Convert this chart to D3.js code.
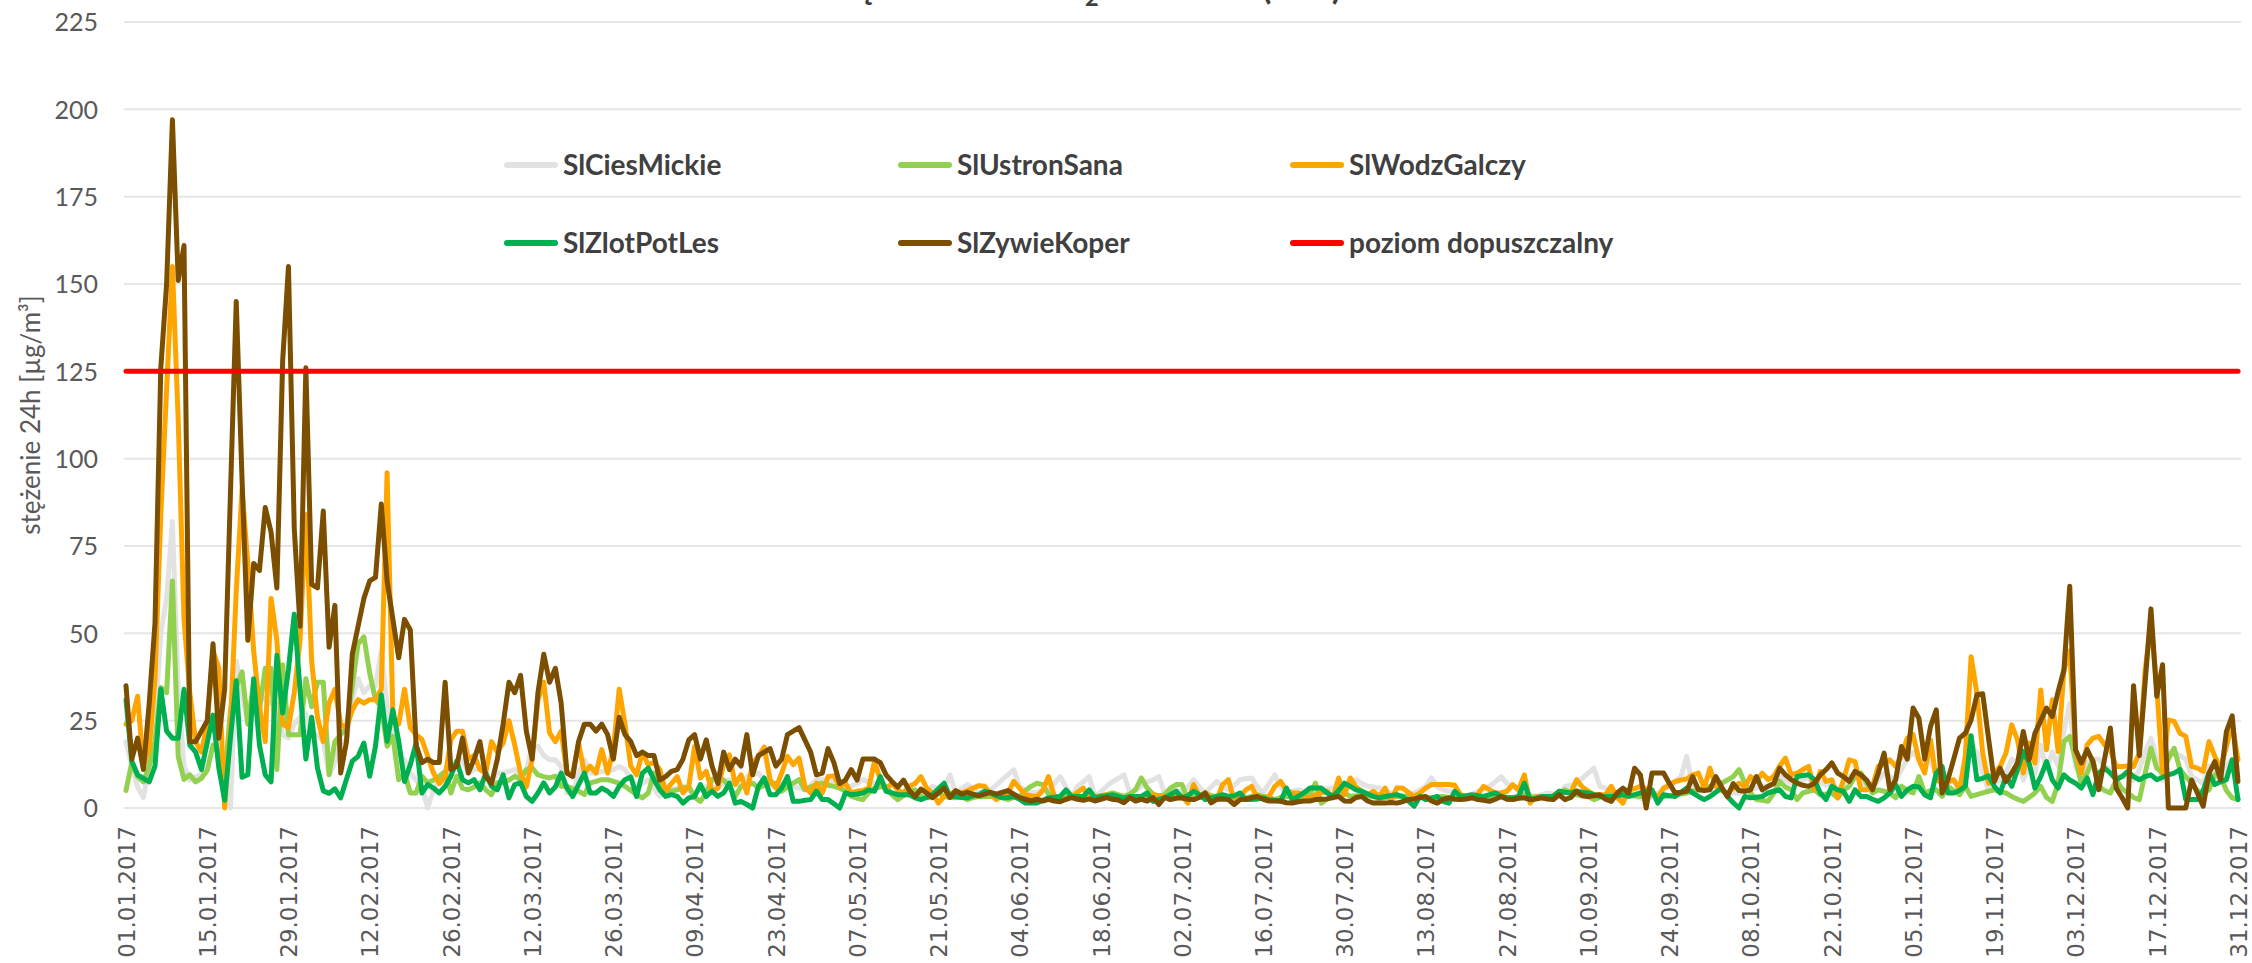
<!DOCTYPE html>
<html><head><meta charset="utf-8">
<script src="https://cdn.jsdelivr.net/npm/d3@7"></script>
<style>html,body{margin:0;padding:0;background:#fff;overflow:hidden}</style>
</head><body>
<svg id="chart" width="2252" height="963"></svg>
<script>
// ---------- data ----------
const seriesNames = ["SlCiesMickie", "SlUstronSana", "SlWodzGalczy", "SlZlotPotLes", "SlZywieKoper"];
const seriesColors = ["#E2E2E2", "#92D050", "#FFA500", "#00B050", "#7B4E00"];
const limitName = "poziom dopuszczalny";
const limitColor = "#FF0000";
const limitValue = 125;

const cies = [
19,12,6,3,12,24,50,60,82,34,
12,8,9,9.5,21,24,15,7,0,42,
33,24,29,32,31,30,30,21,20,24,
26,27,21,21,19,9.5,13,19,19,31,
37,33,35,35,45,29,21.5,15.7,13.8,10,
8,6.2,0,5.2,8.1,9.1,11,12.9,13.8,10,
11,11.5,10,7.2,10,10,10.5,11,9.1,11,
17.7,17.7,15,13.8,13.8,11.9,4.3,4.3,10,13.8,
10,10,10.5,10.5,11,11.9,11,8.5,6.2,7,
8.1,5.5,3.3,4.3,5.2,5.7,6.2,5,4.3,5.2,
6.2,6,5.7,7,8.1,7,6.2,9,9.5,10,
8,6.2,6.7,7.1,6.6,6.2,5.7,5.2,6.5,8.1,
8.1,8.1,7,6.2,6.2,6.2,7,8.1,7.5,7.1,
6.5,6.2,4,2.4,4.5,6.2,4.5,3.3,5,6.2,
5.5,5.2,9.5,4.3,5.5,6.7,5.5,4.3,4.8,5.2,
6.5,8.1,9.5,11,6.2,5,4.3,4.6,5,5.2,
7,9,6,3.3,6.2,7.5,9,3.3,4.7,6.2,
7.5,8.5,9.5,4.3,5.2,6.2,7.5,8,9,4.3,
5.2,5.5,4.3,6,8.1,6,4.3,6,7.6,6.2,
5.2,6.5,8.1,8.4,8.6,6,4.3,7,9.5,6,
4.3,4.8,5.2,4.8,4.3,4.8,5.2,5.5,5.7,5.5,
5.2,6.5,8.1,7,6.2,6,5.7,5,4.3,3.8,
3.3,3.8,4.3,5.2,6.2,8.6,6,5.2,4.8,4.3,
3.8,3.3,4,4.8,5.5,6.2,7.5,9,7,6.2,
5,4.3,3.8,3.3,3.8,4.3,4,3.8,6.2,6.5,
7.1,8.5,10,11.4,6.2,5.7,5.2,4.3,3.3,3.3,
3.3,2.8,2.4,3.3,4.3,5.2,6.2,7.5,9,14.8,
6.2,5.7,5.2,5.7,6.2,5.2,4.3,4.3,4.3,4.8,
5.2,5.7,6.2,6,7,9,8,7,7.5,8,
9,6,7.5,6.5,7,5,6,9,10,7,
6,5.5,8,10,9,8,11,14,16,14,
12,14,9,6,7,8,6,10,18,16,
10,5,7,8,10,14,13,8,12,10,
18,11,16,12,22,30,12,8,13,14,
14,12,11,9,9,9,8,11,16,20,
14,8,16,16,15,14,9,8,7,12,
10,8,12,14,9];

const ustron = [
5,13,9,7.5,12,19,34.5,33,65,14.7,
8.2,9.5,7.5,8.5,10.8,18,16,7.5,28,34.5,
39,24,36,28,40,40,11,41,21,21,
21,37,29,36,36,9.5,19,21,23,35,
47,49,38.6,31,29,17.7,20.5,8.1,10,4.3,
4.3,9.1,7.2,8,9.1,10.5,4.3,9.1,5.7,5.2,
6,7.2,5.2,3.8,7.2,7.2,8,9.1,8.1,11,
11.5,9.5,9,8.6,9.1,6.2,6.2,5.5,4.8,3.8,
7.2,7.6,8.1,8.1,7.6,7.1,6.2,5,3.8,2.9,
4.3,10,6,4.3,4.8,5.2,5.7,6.2,3,1.9,
4.3,8.1,9,8,6.2,3.3,6.2,6.5,7.1,5.7,
6.5,7.1,7.1,4.8,6,7.1,8.1,5.2,6,6.7,
7.1,6.5,6.2,5.7,4.8,3.3,2.8,2.4,4.3,5.7,
6,6.2,3.8,2.4,3.5,4.8,5.2,3.3,3,2.9,
4.3,3.3,3,2.9,3.3,2.4,3,3.3,3.3,3.3,
3.3,3,2.4,3,3.3,5,6.2,7.1,6.7,4,
3.3,3.3,3.3,3,2.9,3.1,3.3,3.3,3.3,3.8,
4.3,3.8,3.3,4,5.2,8.6,5.7,4,3.3,3.8,
5.7,6.7,6.7,2.4,3,3.3,4.3,3.5,3.3,3.1,
2.9,3.3,3.1,2.9,3.3,3.8,3.3,3,2.4,3,
3.3,3.3,3.1,2.9,4,7.1,1.4,2.5,3.3,3.8,
4.3,3.3,3.5,3.8,3.5,3.3,3,2.9,3.1,3.3,
3.3,3.3,3.3,3.3,3,2.9,3.1,3.3,3,2.9,
3.1,3.3,3,2.9,3.1,3.3,3.3,3.3,3,2.9,
3.3,3.8,3.3,2.9,2.9,3,3.3,4,5.2,4.5,
3.8,3.5,3.3,2.4,3,3.8,4,4.3,4,3.8,
3.5,3.3,3.5,3.8,3.5,3.3,3.5,3.8,4,4.3,
4.8,5.2,5.7,6.2,6.7,7.1,8,9,11,7.1,
4.3,2.4,2.2,1.9,4.3,7.6,6,5.2,2.4,4.3,
4.8,5.2,3.8,4,4.3,2.9,5,6.2,9,10,
7,4.3,5.2,4.8,4.3,2.9,6.2,5,4.3,9,
4.3,5,5.2,3.3,6.2,5,3.8,6.2,3.3,3.8,
4.3,4.8,5.2,4.7,4.3,3.3,2.5,1.9,3,4.3,
6.2,3,1.9,7.1,19,20.5,13.8,7.1,10,13.8,
6.2,5,4.3,8.1,5.5,4.3,3,2.4,10,17.1,
11.4,10,14,17.1,11,9,7.1,5,4.3,5.2,
9.5,9,5,2.9,2.4];

const wodz = [
24,25,32,12,17,37,84,120,155,111,
54,33,19,16,24,45,40,0,24,62,
91,70,45,29,19,60,48,24,23,33,
48,84,42,26,19,30,34,24,23,28,
31,30,31,31,34,96,26,24,34,23,
21,19.6,14.8,10,7,9,19.6,22,22,14,
15,11,10,19,16,18.6,25,18,10,6,
14,31,36,21.5,19,22,10,10,18.6,10,
12,10,16.7,10,16.7,34,24,12,9.5,16,
12.4,13,11,4.8,7,9,4.3,6.2,17.6,8.6,
10.5,4.8,5.7,12.4,15.2,6.7,9.5,4.3,12.9,14.8,
17.4,8.1,5.7,10,14.8,12.4,14.3,6.2,4.3,7.1,
4.3,9,9.2,6.2,7.1,4.3,4.8,5,5.7,13.3,
8.1,5.2,7.1,5.2,4.3,6.2,7,9,5.7,4.3,
1.4,3.3,4,4.8,4.3,5,5.7,6.4,6.2,4,
2.4,3.5,4.3,7.6,5.7,3.8,3.5,3.3,5,9,
3.3,3,2.4,3.3,4.5,5.7,2.6,3.3,3.5,3.8,
3.3,3,2.6,3.3,3,2.4,3,3.8,3.5,3.3,
3.3,4.3,3.3,1.4,6.7,3.3,4.3,3,2.4,6.7,
8.1,1.9,3.3,5.2,6.2,2.9,3.1,3.3,6.2,7.6,
5,4.3,4.3,3.8,2.4,3.8,4.3,4.8,2.9,8.6,
3.8,8.6,6,4.8,3.8,4.8,3.3,5.7,1.9,5.7,
5.7,4.5,3.3,4.3,5.7,6.7,6.7,6.7,6.7,6.5,
3.8,3.3,3.3,4,6.2,5.2,4.3,4.3,4.8,6.7,
5.2,9.5,1.4,3.3,3,2.6,3.5,4.8,4.5,4.3,
8.1,6,4.8,3.8,3.8,3.8,6.2,3,1.4,5.2,
5.5,6.2,5.5,4.8,2.9,5.7,6.5,7.6,8,8.3,
9.5,10,5.7,11.4,6.2,5,4.3,5.7,7.1,6,
9,7.6,10,8.1,9,12,14.3,9.5,10,11,
11.9,5.2,10.5,7.6,8.1,2.9,8,13.8,13.3,5.2,
5.2,6,11.9,12.5,13.8,11.9,14.8,20,21,13.8,
10,19.5,8.1,7.1,7.5,8.1,5.2,14.8,43.3,32.9,
15.7,7.1,10,11.9,15.7,23.8,19.5,10,18.6,12.9,
33.8,16.7,31,16.2,39.5,45,16.7,10,18.1,20,
20.5,18.1,16.7,11.9,11.9,12,11.9,15.7,39.5,52.9,
34.8,10,25.2,24.8,21.4,20.5,11.9,11.4,10.5,19,
14.8,11.4,17.6,24.3,13.8];

const zlot = [
31,13.4,9.5,8.5,7.5,12,34,22,20,20,
34,18,16,11,18.7,26.6,11.4,2.2,20,36.4,
8.8,9.5,37,18,9.5,7.5,43.7,27.2,39.7,55.5,
33.8,14,26,11.4,4.9,4.2,5.5,2.9,8.2,13.4,
14.8,18.6,9.1,17.7,32.4,19.1,28.1,19.1,7.6,12.4,
18.6,4.3,6.7,5.7,4.3,6.2,9.1,13.4,8.1,7.2,
8.1,5.2,10,6.2,5.2,9.5,2.9,6.7,7.2,3.3,
1.9,4.3,7.2,4.3,6,10,5.7,3.3,6.7,10,
4.3,4.3,5.7,4.8,3.3,6.2,8.1,8.9,3.3,10,
11.4,8.1,5.2,3.3,3.8,3.3,1.4,2.9,3.3,6.7,
3.3,4.8,3.3,4.3,7.1,1.4,1.9,1,0,6.2,
8.6,3.8,3.8,5.7,9,1.9,1.9,2.2,2.4,4.8,
2.4,2.4,1.2,0,4.3,3.8,4,4.3,5.2,4.8,
9,4.8,4.3,3.8,3.8,3.8,2.9,2.4,3,3.8,
5.5,7.1,3.3,3.3,3,2.9,3.5,3.8,4.8,4.3,
3.5,2.9,3,3.3,2.5,1.4,1.4,1.4,2.2,2.9,
3.1,3.3,5.2,3.3,3.3,3.3,5.2,2.9,3.3,3.5,
3.8,3.3,2.9,3.3,3.3,3.3,4.3,1.9,2.5,2.9,
3.8,4.8,2.9,3.5,4.8,3.8,2.4,2.9,3.3,3.8,
3.3,3.5,4.3,2.4,2.4,2.6,2.9,2.4,2.2,1.9,
5.7,2.4,3.3,4.3,5.7,5.7,5.7,4.3,3.3,5,
7.1,6.2,5.2,4.8,4,3.3,2.9,3.3,3.6,3.8,
3.3,2,0.5,3.3,2.4,2.8,3.3,1.9,1.4,4.8,
3.3,3.5,3.8,3.5,3.3,3.8,4.3,3.3,3,2.9,
3.3,7.1,2.4,2.8,3.3,3.3,3.3,4.8,4.5,4.3,
4.8,4.5,4.3,3.8,3.3,3.3,3.3,3.5,3.8,3.3,
3.8,4.3,4.8,5.2,1.4,3.8,3.5,3.3,4.5,5.7,
4.3,3.3,2.4,3.3,4.5,5.7,3.3,1.5,0,3.3,
2.9,3.1,3.3,4.3,4.8,5.2,3.3,2.9,9,9.3,
9.5,8.1,4.3,2.4,6.2,5.2,4.8,1.9,5.2,3.3,
3.3,2.5,1.9,2.9,4.3,6.7,3.3,5.2,6.2,6,
3.8,2.9,10,11.9,4.3,4.3,5,6.2,20.7,8.1,
8.5,9.2,6.2,4.3,9,6.2,11,16.2,12.9,5.7,
9,13.3,8,5.7,9.5,8,7.1,5.7,8.6,3.8,
10,11.4,10,8.1,9,10.5,9,8.1,9,9.5,
8.1,8.8,9.5,10,11,2.4,2.4,2.4,5,10,
6.7,7.5,8.1,13.8,2.4];

const zywie = [
35,14,20,11,30,53,126,150,197,151,
161,19,19,22,25,47,20,34,90,145,
94,48,70,68,86,79,63,128,155,80,
52,126,64,63,85,46,58,10,19,44,
52,60,65,66,87,65,54,43,54,51,
18,13,14,13,13,36,11,12,20,10,
14,19,9,7,14,24,36,33,38,22,
14,33,44,36,40,30,10,9,19,24,
24,22,24,21,14,26,21,19,15,16,
15,15,8,9,10.5,11,14,19.5,21,14,
19.5,12,7,16,11,14,12,21,9.5,15,
16,17,12,14,21,22,23,19.5,16,9.5,
10,17,13,7,8,11,8,14,14,14,
13,9.5,7.6,6,8,5,3.3,5.4,4.3,3,
4.3,5.7,3,5,4,4.5,4,3.5,4,4.5,
4,4.5,5,4,3,2.5,2,2.5,2,2.5,
2,1.8,2.5,3,2.5,2.2,2.6,2,2.5,3,
2.5,2.3,1.5,3,2,2.5,2,3,1,3,
2.4,2.8,2.9,2.5,2.4,3,4.3,1.5,2.5,2.6,
2.4,1,2.4,2.5,3,3.3,2.5,2,2,2,
1.5,1.4,1.8,2,2,2.4,2.5,2.6,3,3.3,
2,1.9,3,3.3,2,1.4,1.5,1.4,1.6,1.4,
1.8,2.4,2.6,3,3.3,2,1.4,2.5,2.9,2.5,
2.4,2.6,2.9,2.4,2.2,1.9,2.5,3.3,2.5,2.4,
2.8,2.9,2.4,2.6,2.9,2.6,2.4,3.8,2.4,3,
4.8,3.5,3.3,3.5,3.8,2.5,1.9,4.3,5.7,4.3,
11.4,9.5,0,10,10,10,7,4.3,4.5,4.8,
9,5.2,5,5.2,9,6,3.3,7,5,4.8,
5.2,9,5.2,6.2,7,11.4,9.5,8.1,7.1,6.5,
6.2,7.1,9.5,11,12.9,10,9,7.6,10.5,9.5,
8,5.2,10,15.7,5.2,8.1,17.6,14,28.6,25.7,
14,23.3,28.1,4.3,8.1,14,20,21.4,25.2,32.4,
32.7,20,7.6,11.4,7.6,10,12.9,21.9,13.8,21.4,
25,28.6,26.2,33.3,39.5,63.5,16.7,12.9,16.7,13.3,
5.2,14,22.9,5.7,3,0,35,15,36,57,
32,41,0,0,0,0,8,4.3,0.5,10,
13.3,8.1,21.9,26.4,7.6];

const yTicks = [0, 25, 50, 75, 100, 125, 150, 175, 200, 225];
const tickLabels = ["01.01.2017","15.01.2017","29.01.2017","12.02.2017","26.02.2017","12.03.2017",
  "26.03.2017","09.04.2017","23.04.2017","07.05.2017","21.05.2017","04.06.2017","18.06.2017",
  "02.07.2017","16.07.2017","30.07.2017","13.08.2017","27.08.2017","10.09.2017","24.09.2017",
  "08.10.2017","22.10.2017","05.11.2017","19.11.2017","03.12.2017","17.12.2017","31.12.2017"];
const yTitle = "stężenie 24h [µg/m³]";
const titleParts = ["Stężenie 24h SO", "2", " w 2017 r. (24h)"];

// categories: every day of 2017
const fmt = d3.timeFormat("%d.%m.%Y");
const categories = d3.timeDay.range(new Date(2017, 0, 1), new Date(2018, 0, 1)).map(fmt);

const seriesData = [cies, ustron, wodz, zlot, zywie];

// ---------- drawing ----------
const svg = d3.select("#chart");
const W = 2252, H = 963;
const plotLeft = 124, plotRight = 2241;
const x = d3.scalePoint().domain(categories).range([126, 2238]);
const y = d3.scaleLinear().domain([0, 225]).range([808, 22]);

svg.append("rect").attr("width", W).attr("height", H).attr("fill", "#fff");

// title: in the reference only its lowest edge lies inside the picture
const title = svg.append("text")
  .attr("x", 0).attr("y", -1)
  .attr("font-family", "Lato, 'Open Sans', sans-serif")
  .attr("font-weight", "bold").attr("font-size", 30)
  .attr("fill", "#404040");
title.append("tspan").text(titleParts[0]);
title.append("tspan").attr("dy", 7).attr("font-size", 20).text(titleParts[1]);
title.append("tspan").attr("dy", -7).text(titleParts[2]);
(function fitTitle() {
  const n = title.node();
  const iE = 2, iP = titleParts[0].length + titleParts[1].length + titleParts[2].indexOf("(");
  const a = n.getStartPositionOfChar(iE).x, b = n.getStartPositionOfChar(iP).x;
  const k = (1266 - 862) / (b - a);
  title.attr("font-size", 30 * k);
  title.selectAll("tspan").filter((d, i) => i === 1).attr("font-size", 20 * k);
  const a2 = n.getStartPositionOfChar(iE).x;
  title.attr("x", 858 - a2);
})();

// gridlines
svg.append("g").selectAll("line").data(yTicks).join("line")
  .attr("x1", plotLeft).attr("x2", plotRight)
  .attr("y1", d => y(d)).attr("y2", d => y(d))
  .attr("stroke", "#E6E6E6").attr("stroke-width", 2);

// y axis
const yAxis = svg.append("g").attr("transform", `translate(${plotLeft - 26},0)`)
  .call(d3.axisLeft(y).tickValues(yTicks).tickSize(0).tickPadding(0));
yAxis.select(".domain").remove();
yAxis.selectAll("text")
  .attr("font-family", "Lato, 'Open Sans', sans-serif")
  .attr("font-size", 25).attr("fill", "#595959").attr("dy", "0.35em");

// x axis
const xAxis = svg.append("g").attr("transform", `translate(0,${y(0)})`)
  .call(d3.axisBottom(x).tickValues(tickLabels).tickSize(0));
xAxis.select(".domain").remove();
xAxis.selectAll("text")
  .attr("font-family", "'DejaVu Sans', sans-serif")
  .attr("font-size", 23).attr("fill", "#595959")
  .attr("text-anchor", "end")
  .attr("transform", "rotate(-90)")
  .attr("x", -18).attr("y", 0).attr("dy", "0.36em");

// y title
svg.append("text")
  .attr("transform", "translate(40,415) rotate(-90)")
  .attr("text-anchor", "middle")
  .attr("font-family", "Lato, 'Open Sans', sans-serif")
  .attr("font-size", 26).attr("fill", "#595959")
  .text(yTitle);

// series lines
const line = d3.line()
  .x((d, i) => x(categories[i]))
  .y(d => y(d))
  .curve(d3.curveLinear);

const gLines = svg.append("g");
seriesData.forEach((arr, k) => {
  gLines.append("path").datum(arr)
    .attr("fill", "none")
    .attr("stroke", seriesColors[k])
    .attr("stroke-width", 5)
    .attr("stroke-linejoin", "round")
    .attr("stroke-linecap", "round")
    .attr("d", line);
});

// limit line
const limitSeries = categories.map(() => limitValue);
gLines.append("path").datum(limitSeries)
  .attr("fill", "none").attr("stroke", limitColor)
  .attr("stroke-width", 5).attr("stroke-linecap", "round")
  .attr("d", line);

// legend
const legendItems = seriesNames.map((n, i) => ({name: n, color: seriesColors[i]}))
  .concat([{name: limitName, color: limitColor}]);
const colX = [504, 898, 1290];
const rowY = [165, 243];
const lg = svg.append("g");
legendItems.forEach((it, i) => {
  const cx = colX[i % 3], cy = rowY[Math.floor(i / 3)];
  lg.append("line").attr("x1", cx + 3).attr("x2", cx + 51)
    .attr("y1", cy).attr("y2", cy)
    .attr("stroke", it.color).attr("stroke-width", 6).attr("stroke-linecap", "round");
  lg.append("text").attr("x", cx + 59).attr("y", cy + 10)
    .attr("font-family", "Lato, 'Open Sans', sans-serif")
    .attr("font-weight", "bold").attr("font-size", 28)
    .attr("fill", "#404040").text(it.name);
});
</script>
</body></html>
